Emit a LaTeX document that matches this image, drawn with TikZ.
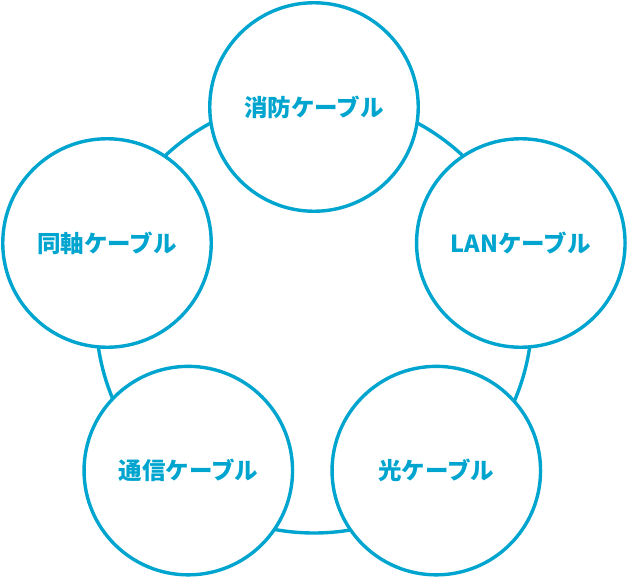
\documentclass[tikz,border=0pt]{standalone}
\usepackage{fontspec}
\setmainfont{Noto Sans CJK JP}
\usepackage{xcolor}
\definecolor{cablecyan}{HTML}{00A5CF}

\begin{document}
\begin{tikzpicture}[x=1pt, y=-1pt]
% Define styles
\tikzstyle{cable} = [circle, draw=cablecyan, line width=3.4pt, fill=white, minimum size=208.5pt, inner sep=0pt, text=cablecyan, font=\fontsize{23.5}{28}\selectfont\bfseries]
\tikzstyle{ring} = [draw=cablecyan, line width=3.4pt]

\useasboundingbox (0,0) rectangle (628,578);

% Outer ring
\coordinate (hub) at (314,315);
\draw [ring] (hub) circle (218);

% Cable types
\node (fire) [cable] at (314,107) {消防ケーブル};
\node (lan) [cable] at (520.8,243) {LANケーブル};
\node (optic) [cable] at (436.3,470.6) {光ケーブル};
\node (telecom) [cable] at (188.3,470.6) {通信ケーブル};
\node (coax) [cable] at (107,243) {同軸ケーブル};

\end{tikzpicture}
\end{document}
